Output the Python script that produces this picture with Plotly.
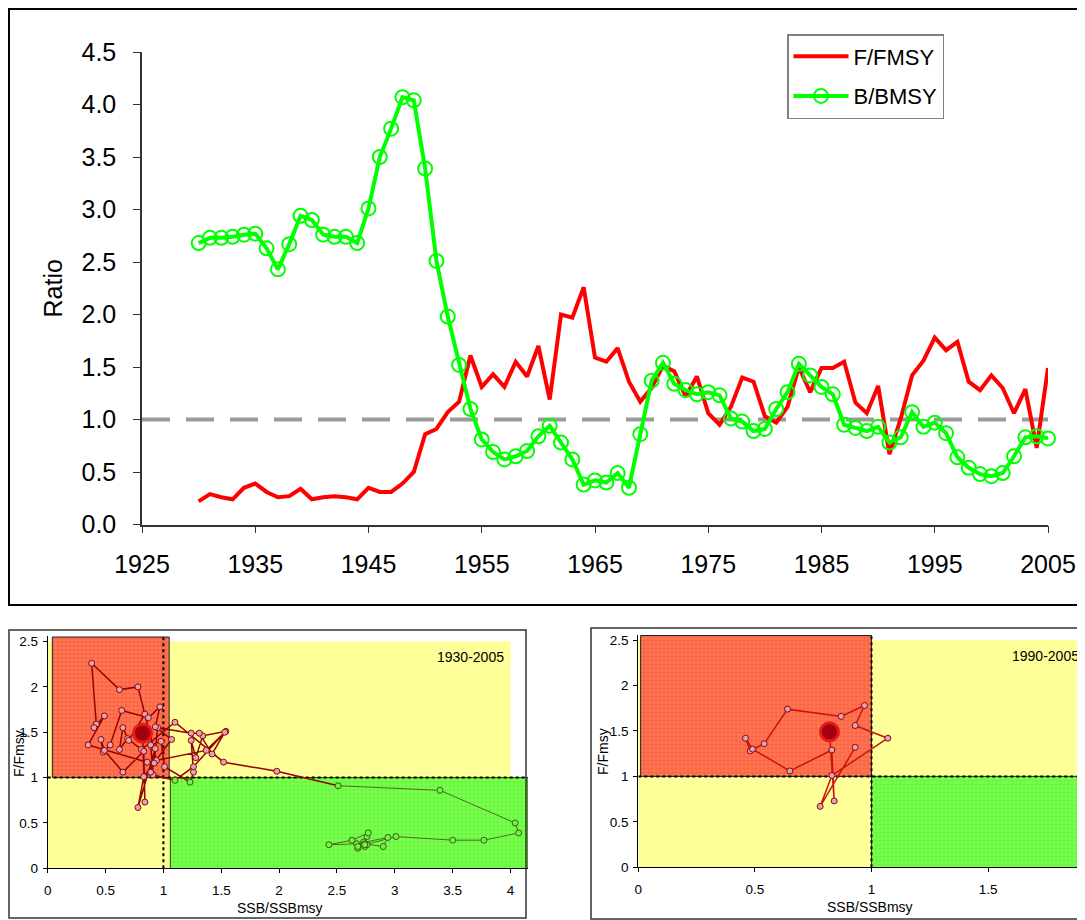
import numpy as np
import plotly.graph_objects as go

years = list(range(1930, 2006))

f_fmsy = [0.22, 0.29, 0.26, 0.24, 0.35, 0.39, 0.31, 0.26, 0.27, 0.34,
          0.24, 0.26, 0.27, 0.26, 0.24, 0.35, 0.31, 0.31, 0.39, 0.50,
          0.86, 0.91, 1.07, 1.17, 1.61, 1.31, 1.43, 1.31, 1.55, 1.41,
          1.70, 1.19, 2.00, 1.97, 2.26, 1.59, 1.55, 1.68, 1.36, 1.17,
          1.30, 1.51, 1.46, 1.22, 1.41, 1.06, 0.95, 1.12, 1.40, 1.36,
          1.03, 0.97, 1.12, 1.50, 1.26, 1.49, 1.49, 1.55, 1.16, 1.06,
          1.32, 0.67, 1.01, 1.42, 1.56, 1.78, 1.66, 1.74, 1.36, 1.28,
          1.42, 1.30, 1.06, 1.29, 0.73, 1.49]

b_bmsy = [2.68, 2.73, 2.73, 2.74, 2.76, 2.77, 2.63, 2.43, 2.67, 2.94,
          2.90, 2.76, 2.74, 2.74, 2.68, 3.01, 3.50, 3.77, 4.07, 4.04,
          3.39, 2.51, 1.98, 1.52, 1.10, 0.81, 0.69, 0.62, 0.65, 0.70,
          0.84, 0.94, 0.78, 0.62, 0.38, 0.42, 0.40, 0.49, 0.35, 0.86,
          1.37, 1.54, 1.34, 1.28, 1.24, 1.26, 1.23, 1.01, 0.98, 0.89,
          0.91, 1.10, 1.26, 1.53, 1.42, 1.31, 1.24, 0.95, 0.92, 0.89,
          0.93, 0.78, 0.83, 1.07, 0.93, 0.97, 0.87, 0.64, 0.54, 0.48,
          0.46, 0.49, 0.65, 0.83, 0.84, 0.82]

REF = 1.0          # F/Fmsy = 1 and B/Bmsy = 1
GREEN_END = 1951   # early trajectory drawn in olive
RECENT_START = 1990

FONT = "Liberation Sans, Arial, sans-serif"
W, H = 1085, 920
OFF = 8  # page margin around the plot div


def px(x):
    return (x - OFF) / W


def py(y):
    return 1 - (y - OFF) / H


def rect(x0, x1, y0, y1):
    return [x0, x1, x1, x0, x0], [y0, y0, y1, y1, y0]


def label(text, x, y, angle=0):
    return dict(text=text, xref="paper", yref="paper", x=px(x), y=py(y),
                xanchor="center", yanchor="middle", textangle=angle,
                showarrow=False, font=dict(size=14))


yr = np.array(years)
F = np.array(f_fmsy)
B = np.array(b_bmsy)

fig = go.Figure()

# ---- top panel: time series ----
fig.add_trace(go.Scatter(x=[1925, 2005], y=[REF, REF], mode="lines",
                         line=dict(color="#999999", width=4, dash="28px,16px"),
                         showlegend=False, hoverinfo="skip"))
fig.add_trace(go.Scatter(x=years, y=f_fmsy, mode="lines", name="F/FMSY",
                         line=dict(color="#FF0000", width=4), legendgroup="f"))
fig.add_trace(go.Scatter(x=years, y=b_bmsy, mode="lines+markers", name="B/BMSY",
                         line=dict(color="#00FF00", width=4), legendgroup="b",
                         marker=dict(symbol="circle", size=14, color="rgba(0,0,0,0)",
                                     line=dict(color="#00FF00", width=2)),
                         cliponaxis=False))

# ---- phase plots ----
red_pat = dict(shape="+", size=4, solidity=0.3, fgcolor="#E82A18", bgcolor="#FF7A55")
green_pat = dict(shape="+", size=4, solidity=0.3, fgcolor="#22E000", bgcolor="#80FF55")


def phase_panel(xa, ya, xmax, red_box, green_box, sel, line_red):
    x, y = rect(0, min(xmax, 4.0), 0, 2.5)
    fig.add_trace(go.Scatter(x=x, y=y, xaxis=xa, yaxis=ya, fill="toself", mode="none",
                             fillcolor="#FFFF99", showlegend=False, hoverinfo="skip"))
    x, y = rect(*red_box)
    fig.add_trace(go.Scatter(x=x, y=y, xaxis=xa, yaxis=ya, fill="toself", mode="lines",
                             line=dict(color="#222222", width=1), fillpattern=red_pat,
                             fillcolor="#FF7A55", showlegend=False, hoverinfo="skip"))
    x, y = rect(*green_box)
    fig.add_trace(go.Scatter(x=x, y=y, xaxis=xa, yaxis=ya, fill="toself", mode="lines",
                             line=dict(color="#224400", width=1), fillpattern=green_pat,
                             fillcolor="#80FF55", showlegend=False, hoverinfo="skip"))
    # reference lines
    fig.add_trace(go.Scatter(x=[REF, REF], y=[0, 2.56], xaxis=xa, yaxis=ya, mode="lines",
                             line=dict(color="black", width=2, dash="dot"),
                             showlegend=False, hoverinfo="skip"))
    fig.add_trace(go.Scatter(x=[0, xmax], y=[REF, REF], xaxis=xa, yaxis=ya, mode="lines",
                             line=dict(color="black", width=2, dash="dot"),
                             showlegend=False, hoverinfo="skip"))

    ys, fs, bs = yr[sel], F[sel], B[sel]
    early = ys <= GREEN_END
    if early.any():
        fig.add_trace(go.Scatter(x=bs[early], y=fs[early], xaxis=xa, yaxis=ya, mode="lines",
                                 line=dict(color="#4D6B1F", width=1),
                                 showlegend=False, hoverinfo="skip"))
    late = ys >= GREEN_END
    fig.add_trace(go.Scatter(x=bs[late], y=fs[late], xaxis=xa, yaxis=ya, mode="lines",
                             line=dict(color=line_red, width=1.5),
                             showlegend=False, hoverinfo="skip"))
    in_green = (bs > REF) & (fs < REF)
    good = in_green.copy()
    good[-1] = False
    bad = ~in_green
    bad[-1] = False
    fig.add_trace(go.Scatter(x=bs[good], y=fs[good], xaxis=xa, yaxis=ya, mode="markers",
                             marker=dict(size=6, color="#77EE55",
                                         line=dict(color="#336600", width=1)),
                             showlegend=False, text=ys[good]))
    fig.add_trace(go.Scatter(x=bs[bad], y=fs[bad], xaxis=xa, yaxis=ya, mode="markers",
                             marker=dict(size=6, color="#D8A8B8",
                                         line=dict(color="#990000", width=1)),
                             showlegend=False, text=ys[bad]))
    # latest year
    fig.add_trace(go.Scatter(x=[bs[-1]], y=[fs[-1]], xaxis=xa, yaxis=ya, mode="markers",
                             marker=dict(size=18, color="#A00010",
                                         line=dict(color="#E81818", width=3)),
                             showlegend=False, text=[ys[-1]]))


phase_panel("x2", "y2", 4.15, (0.04, 1.05, REF, 2.55), (1.06, 4.15, -0.01, REF),
            yr >= 1930, "#990000")
phase_panel("x3", "y3", 1.95, (0.01, REF, REF, 2.55), (REF, 1.95, -0.01, REF),
            yr >= RECENT_START, "#CC1111")

small_axis = dict(showgrid=False, zeroline=False, showline=True, linecolor="black",
                  linewidth=1, ticks="outside", ticklen=4, tickcolor="black",
                  dtick=0.5, tick0=0, tickfont=dict(size=13.5, color="black"),
                  automargin=False)

fig.update_layout(
    width=W, height=H,
    margin=dict(l=0, r=0, t=0, b=0, autoexpand=False),
    paper_bgcolor="white", plot_bgcolor="rgba(0,0,0,0)",
    font=dict(family=FONT, color="black"),
    xaxis=dict(domain=[px(142), px(1048)], range=[1925, 2005], tick0=1925, dtick=10,
               showgrid=False, zeroline=False, showline=True, linecolor="#333333",
               linewidth=1.5, ticks="outside", ticklen=7, tickcolor="#333333",
               tickfont=dict(size=25), ticklabelstandoff=10, anchor="y", automargin=False),
    yaxis=dict(domain=[py(524.5), py(52)], range=[0, 4.5], dtick=0.5, tickformat=".1f",
               showgrid=False, zeroline=False, showline=True, linecolor="#333333",
               linewidth=1.5, ticks="outside", ticklen=7, tickcolor="#333333",
               tickfont=dict(size=25), ticklabelstandoff=12, automargin=False,
               title=dict(text="Ratio", font=dict(size=25), standoff=12), anchor="x"),
    xaxis2=dict(domain=[px(47.7), px(527.9)], range=[0, 4.15], anchor="y2",
                ticklabelstandoff=5, **small_axis),
    yaxis2=dict(domain=[py(868.3), py(636.1)], range=[0, 2.56], anchor="x2",
                ticklabelstandoff=2, **small_axis),
    xaxis3=dict(domain=[px(638.3), 1], range=[0, 1.95], anchor="y3",
                ticklabelstandoff=5, **small_axis),
    yaxis3=dict(domain=[py(867.3), py(634.6)], range=[0, 2.56], anchor="x3",
                ticklabelstandoff=2, **small_axis),
    legend=dict(x=px(787), y=py(34), xanchor="left", yanchor="top",
                bordercolor="#808080", borderwidth=1.5, bgcolor="white",
                font=dict(size=22), tracegroupgap=8, traceorder="grouped",
                itemwidth=55),
    shapes=[
        dict(type="rect", xref="paper", yref="paper", x0=px(9), x1=px(1083),
             y0=py(605), y1=py(9), line=dict(color="black", width=2)),
        dict(type="rect", xref="paper", yref="paper", x0=px(9), x1=px(526),
             y0=py(918), y1=py(630), line=dict(color="#333333", width=1.5)),
        dict(type="rect", xref="paper", yref="paper", x0=px(591), x1=px(1110),
             y0=py(919), y1=py(628), line=dict(color="#333333", width=1.5)),
    ],
    annotations=[
        label("1930-2005", 470, 657),
        label("1990-2005", 1045, 656),
        label("F/Fmsy", 19, 754, -90),
        label("SSB/SSBmsy", 280, 908),
        label("F/Fmsy", 603, 752, -90),
        label("SSB/SSBmsy", 870, 907),
    ],
)

fig.write_html("out.html")
